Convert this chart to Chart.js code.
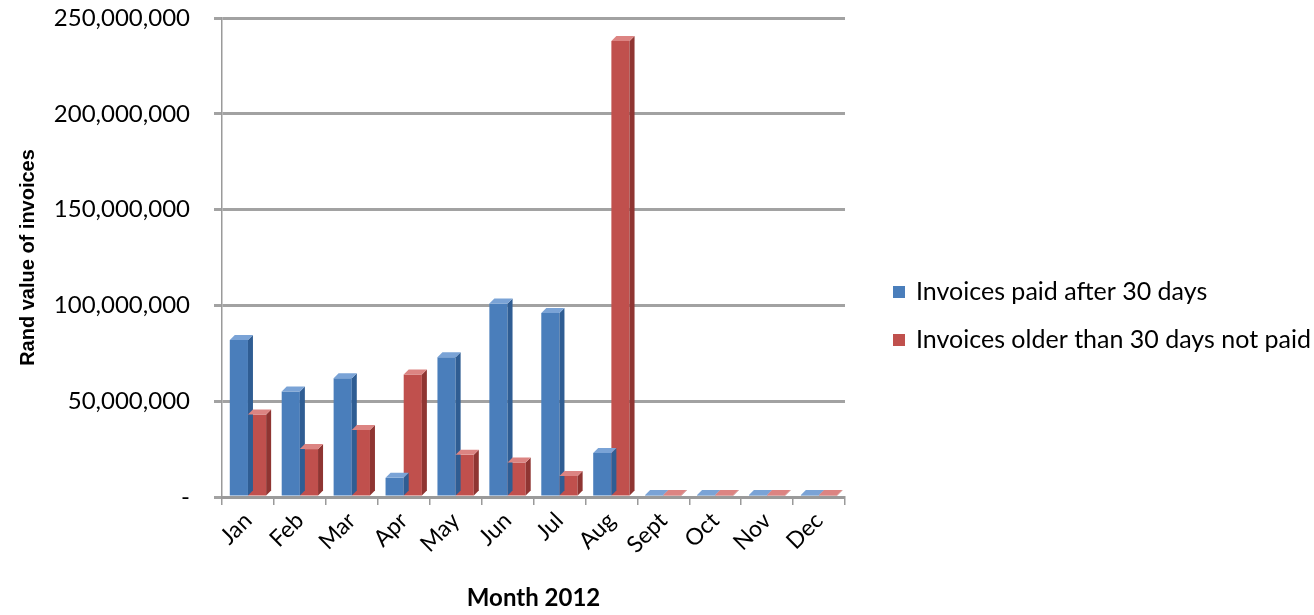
<!DOCTYPE html>
<html>
<head>
<meta charset="utf-8">
<script src="https://cdn.jsdelivr.net/npm/chart.js@4/dist/chart.umd.min.js"></script>
<style>
  html, body { margin: 0; padding: 0; background: #fff; }
  #wrap { width: 1314px; height: 615px; }
</style>
</head>
<body>
<div id="wrap"><canvas id="chart" width="1314" height="615"></canvas></div>
<script>
// Months shown on the x axis
var months = ['Jan', 'Feb', 'Mar', 'Apr', 'May', 'Jun', 'Jul', 'Aug', 'Sept', 'Oct', 'Nov', 'Dec'];

// Rand values
var paidAfter30 = [82000000, 55000000, 62000000, 10000000, 73000000, 101000000, 96000000, 23000000, 0, 0, 0, 0];
var olderNotPaid = [43000000, 25000000, 35000000, 64000000, 22000000, 18000000, 11000000, 238000000, 0, 0, 0, 0];

var seriesNames = ['Invoices paid after 30 days', 'Invoices older than 30 days not paid'];
var seriesColors = ['#4a7ebb', '#c0504d'];
var sideColors = ['#2f5d93', '#8f3532'];
var topColors = ['#7aa3d6', '#dc8482'];

var yTicks = [0, 50000000, 100000000, 150000000, 200000000, 250000000];

// Fake a bit of depth on each column, like the old 3D look
var depthBars = {
    id: 'depthBars',
    afterDatasetsDraw: function(chart) {
        var ctx = chart.ctx;
        var d = 5;
        chart.data.datasets.forEach(function(ds, i) {
            chart.getDatasetMeta(i).data.forEach(function(bar) {
                var l = bar.x - bar.width / 2, r = bar.x + bar.width / 2;
                ctx.save();
                ctx.fillStyle = sideColors[i];
                ctx.beginPath();
                ctx.moveTo(r, bar.y);
                ctx.lineTo(r + d, bar.y - d);
                ctx.lineTo(r + d, bar.base - d);
                ctx.lineTo(r, bar.base);
                ctx.closePath();
                ctx.fill();
                ctx.fillStyle = topColors[i];
                ctx.beginPath();
                ctx.moveTo(l, bar.y);
                ctx.lineTo(l + d, bar.y - d);
                ctx.lineTo(r + d, bar.y - d);
                ctx.lineTo(r, bar.y);
                ctx.closePath();
                ctx.fill();
                ctx.restore();
            });
        });
    }
};

// Legend drawn at the right, next to the plot like the original
var sideLegend = {
    id: 'sideLegend',
    afterDraw: function(chart) {
        var ctx = chart.ctx;
        var x = 893, y = 292, step = 48;
        ctx.save();
        ctx.font = '25px Lato';
        ctx.textBaseline = 'middle';
        chart.data.datasets.forEach(function(ds, i) {
            ctx.fillStyle = ds.backgroundColor;
            ctx.fillRect(x, y + i * step - 6, 12, 12);
            ctx.fillStyle = '#000';
            ctx.fillText(ds.label, x + 23, y + i * step);
        });
        ctx.restore();
    }
};

new Chart(document.getElementById('chart'), {
    type: 'bar',
    data: {
        labels: months,
        datasets: [
            { label: seriesNames[0], data: paidAfter30, backgroundColor: seriesColors[0] },
            { label: seriesNames[1], data: olderNotPaid, backgroundColor: seriesColors[1] }
        ]
    },
    options: {
        responsive: false,
        animation: false,
        layout: { padding: { top: 18, right: 469, bottom: 2, left: 0 } },
        datasets: {
            bar: { categoryPercentage: 0.7, barPercentage: 1.0, minBarLength: 2 }
        },
        plugins: {
            tooltip: { enabled: false },
            legend: { display: false }
        },
        scales: {
            x: {
                afterFit: function(scale) { scale.height = 116; },
                grid: { drawOnChartArea: false, offset: true, tickLength: 8, color: '#9a9a9a', lineWidth: 1.5 },
                border: { color: '#9a9a9a', width: 3 },
                ticks: {
                    font: { family: 'Lato', size: 23 },
                    color: '#000',
                    minRotation: 45,
                    maxRotation: 45,
                    padding: 2
                },
                title: {
                    display: true,
                    text: 'Month 2012',
                    font: { family: 'Lato', size: 24, weight: 'bold' },
                    color: '#000',
                    padding: { top: 0, bottom: 0 }
                }
            },
            y: {
                min: 0,
                max: 250000000,
                afterBuildTicks: function(scale) {
                    scale.ticks = yTicks.map(function(v) { return { value: v }; });
                },
                afterFit: function(scale) {
                    scale.width = 222;
                    scale.paddingTop = 0;
                    scale.paddingBottom = 0;
                },
                grid: { color: '#a2a2a2', lineWidth: 3, tickLength: 8 },
                border: { color: '#9a9a9a', width: 1.5 },
                ticks: {
                    font: { family: 'Lato', size: 24 },
                    color: '#000',
                    padding: 24,
                    callback: function(v) { return v === 0 ? '-' : v.toLocaleString('en-US'); }
                },
                title: {
                    display: true,
                    text: 'Rand value of invoices',
                    font: { family: 'Liberation Sans', size: 20, weight: 'bold' },
                    color: '#000',
                    padding: { top: 16, bottom: 0 }
                }
            }
        }
    },
    plugins: [depthBars, sideLegend]
});
</script>
</body>
</html>
